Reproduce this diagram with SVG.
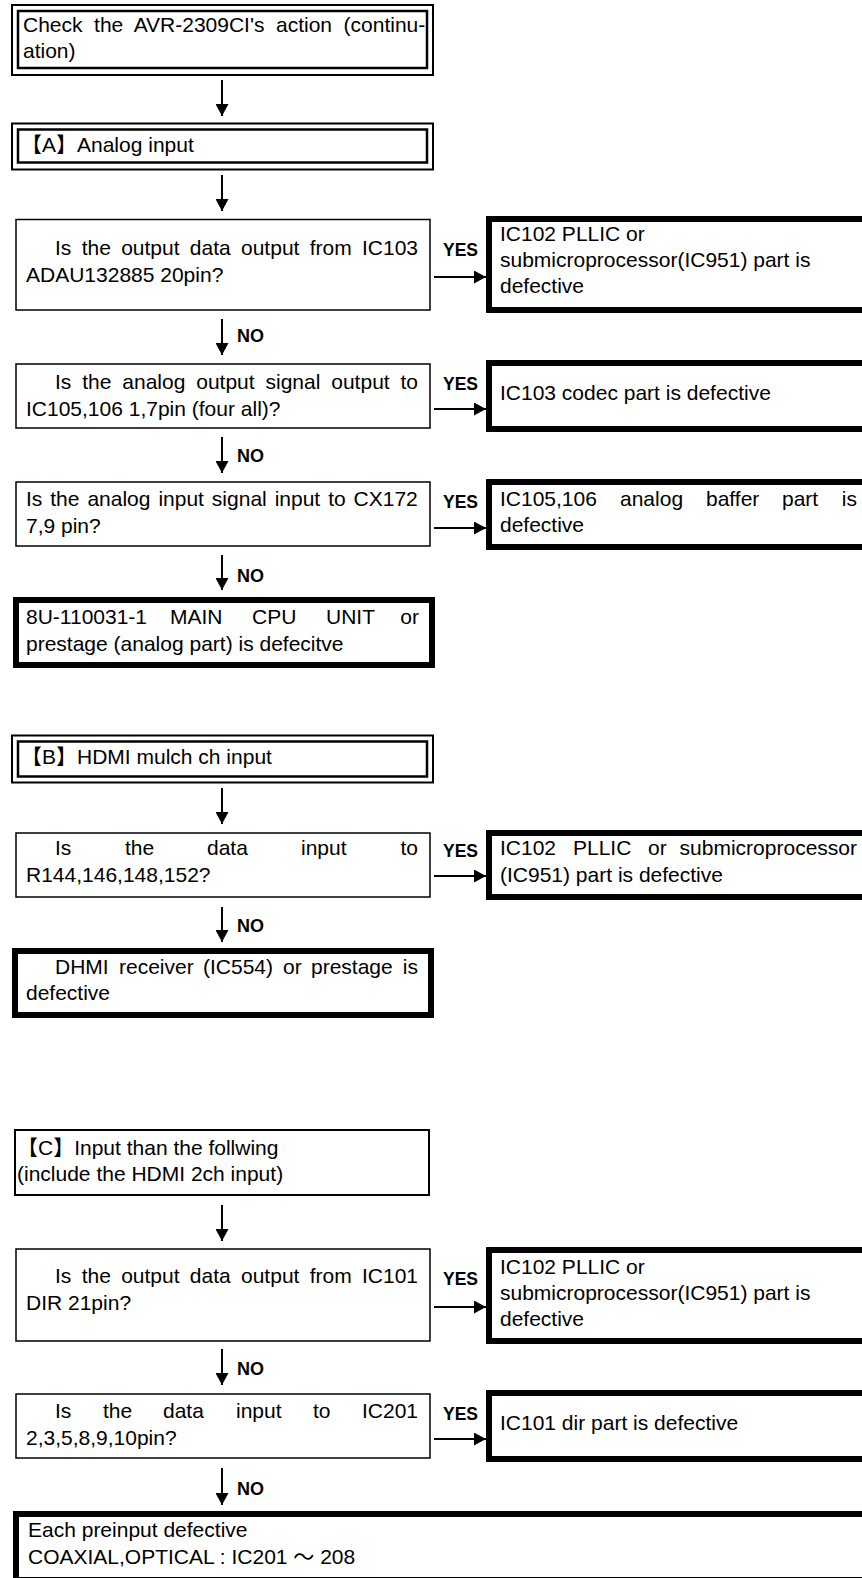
<svg xmlns="http://www.w3.org/2000/svg" width="862" height="1578" viewBox="0 0 862 1578">
<style>
.t{font-family:"Liberation Sans",Arial,"Noto Sans CJK JP",sans-serif;font-size:21px;fill:#000}
.yn{font-family:"Liberation Sans",Arial,sans-serif;font-size:18px;font-weight:bold;fill:#000}
.thin{fill:#fff;stroke:#000;stroke-width:1.5}
.thick{fill:#fff;stroke:#000;stroke-width:6}
.dblo{fill:#fff;stroke:#000;stroke-width:2}
.dbli{fill:none;stroke:#000;stroke-width:2.5}
.conn line{stroke:#000;stroke-width:2;marker-end:url(#ah)}
</style>
<defs>
<marker id="ah" viewBox="0 0 12 13" refX="12" refY="6.5" markerWidth="12" markerHeight="13" markerUnits="userSpaceOnUse" orient="auto">
<path d="M0,0 L12,6.5 L0,13 z" fill="#000"/>
</marker>
</defs>
<rect width="862" height="1578" fill="#fff"/>

<g id="start">
<rect class="dblo" x="12" y="5" width="421" height="70"/>
<rect class="dbli" x="18" y="11" width="409" height="57"/>
<text class="t" x="23" y="32" word-spacing="5.7">Check the AVR-2309CI's action (continu-</text>
<text class="t" x="23" y="58">ation)</text>
</g>

<g id="secA">
<rect class="dblo" x="12" y="123.5" width="421" height="46"/>
<rect class="dbli" x="18" y="129.5" width="409" height="33"/>
<text class="t" x="21" y="152">【A】Analog input</text>
</g>

<g id="qA1">
<rect class="thin" x="16" y="219.5" width="414" height="90.5"/>
<text class="t" x="55" y="255" word-spacing="4.47">Is the output data output from IC103</text>
<text class="t" x="26" y="282">ADAU132885 20pin?</text>
</g>
<g id="rA1">
<rect class="thick" x="489" y="219" width="400" height="91"/>
<text class="t" x="500" y="241">IC102 PLLIC or</text>
<text class="t" x="500" y="267">submicroprocessor(IC951) part is</text>
<text class="t" x="500" y="293">defective</text>
</g>

<g id="qA2">
<rect class="thin" x="16" y="364" width="414" height="64"/>
<text class="t" x="55" y="389" word-spacing="5.05">Is the analog output signal output to</text>
<text class="t" x="26" y="416">IC105,106 1,7pin (four all)?</text>
</g>
<g id="rA2">
<rect class="thick" x="489" y="363" width="400" height="66"/>
<text class="t" x="500" y="400">IC103 codec part is defective</text>
</g>

<g id="qA3">
<rect class="thin" x="16" y="482" width="414" height="64"/>
<text class="t" x="26" y="506" word-spacing="2.1">Is the analog input signal input to CX172</text>
<text class="t" x="26" y="533">7,9 pin?</text>
</g>
<g id="rA3">
<rect class="thick" x="489" y="482" width="400" height="65"/>
<text class="t" y="506"><tspan x="500">IC105,106</tspan><tspan x="620">analog</tspan><tspan x="706">baffer</tspan><tspan x="782">part</tspan><tspan x="857" text-anchor="end">is</tspan></text>
<text class="t" x="500" y="532">defective</text>
</g>

<g id="endA">
<rect class="thick" x="16" y="600" width="416" height="65"/>
<text class="t" y="624"><tspan x="26">8U-110031-1</tspan><tspan x="170">MAIN</tspan><tspan x="252">CPU</tspan><tspan x="326">UNIT</tspan><tspan x="419" text-anchor="end">or</tspan></text>
<text class="t" x="26" y="651">prestage (analog part) is defecitve</text>
</g>

<g id="secB">
<rect class="dblo" x="12" y="735.5" width="421" height="47"/>
<rect class="dbli" x="18" y="741.5" width="409" height="35"/>
<text class="t" x="21" y="764">【B】HDMI mulch ch input</text>
</g>

<g id="qB1">
<rect class="thin" x="16" y="833" width="414" height="64"/>
<text class="t" y="855"><tspan x="55">Is</tspan><tspan x="125">the</tspan><tspan x="207">data</tspan><tspan x="301">input</tspan><tspan x="418" text-anchor="end">to</tspan></text>
<text class="t" x="26" y="882">R144,146,148,152?</text>
</g>
<g id="rB1">
<rect class="thick" x="489" y="833" width="400" height="64"/>
<text class="t" y="855"><tspan x="500">IC102</tspan><tspan x="573">PLLIC</tspan><tspan x="648">or</tspan><tspan x="857" text-anchor="end">submicroprocessor</tspan></text>
<text class="t" x="500" y="882">(IC951) part is defective</text>
</g>

<g id="endB">
<rect class="thick" x="15" y="951" width="416" height="64"/>
<text class="t" y="974"><tspan x="55">DHMI</tspan><tspan x="119">receiver</tspan><tspan x="203">(IC554)</tspan><tspan x="283">or</tspan><tspan x="311">prestage</tspan><tspan x="418" text-anchor="end">is</tspan></text>
<text class="t" x="26" y="1000">defective</text>
</g>

<g id="secC">
<rect class="dblo" x="15" y="1130" width="414" height="65"/>
<text class="t" x="17" y="1155">【C】Input than the follwing</text>
<text class="t" x="17" y="1181">(include the HDMI 2ch input)</text>
</g>

<g id="qC1">
<rect class="thin" x="16" y="1249" width="414" height="92"/>
<text class="t" x="55" y="1283" word-spacing="4.47">Is the output data output from IC101</text>
<text class="t" x="26" y="1310">DIR 21pin?</text>
</g>
<g id="rC1">
<rect class="thick" x="489" y="1250" width="400" height="91"/>
<text class="t" x="500" y="1274">IC102 PLLIC or</text>
<text class="t" x="500" y="1300">submicroprocessor(IC951) part is</text>
<text class="t" x="500" y="1326">defective</text>
</g>

<g id="qC2">
<rect class="thin" x="16" y="1394" width="414" height="64"/>
<text class="t" y="1418"><tspan x="55">Is</tspan><tspan x="103">the</tspan><tspan x="163">data</tspan><tspan x="236">input</tspan><tspan x="313">to</tspan><tspan x="418" text-anchor="end">IC201</tspan></text>
<text class="t" x="26" y="1445">2,3,5,8,9,10pin?</text>
</g>
<g id="rC2">
<rect class="thick" x="489" y="1393" width="400" height="66"/>
<text class="t" x="500" y="1430">IC101 dir part is defective</text>
</g>

<g id="endC">
<rect class="thick" x="16" y="1514" width="870" height="66"/>
<text class="t" x="28" y="1537">Each preinput defective</text>
<text class="t" x="28" y="1564">COAXIAL,OPTICAL : IC201 ～ 208</text>
</g>

<g id="connectors" class="conn">
<line x1="222" y1="80" x2="222" y2="116"/>
<line x1="222" y1="175" x2="222" y2="211"/>
<line x1="222" y1="319" x2="222" y2="355"/>
<line x1="222" y1="437" x2="222" y2="473"/>
<line x1="222" y1="555" x2="222" y2="590"/>
<line x1="222" y1="788" x2="222" y2="824"/>
<line x1="222" y1="907" x2="222" y2="942"/>
<line x1="222" y1="1205" x2="222" y2="1241"/>
<line x1="222" y1="1349" x2="222" y2="1385"/>
<line x1="222" y1="1468" x2="222" y2="1505"/>
<line x1="434" y1="277" x2="486" y2="277"/>
<line x1="434" y1="409" x2="486" y2="409"/>
<line x1="434" y1="528" x2="486" y2="528"/>
<line x1="434" y1="876" x2="486" y2="876"/>
<line x1="434" y1="1307" x2="486" y2="1307"/>
<line x1="434" y1="1439" x2="486" y2="1439"/>
</g>
<g id="labels">
<text class="yn" x="443" y="256" textLength="35" lengthAdjust="spacingAndGlyphs">YES</text>
<text class="yn" x="443" y="390" textLength="35" lengthAdjust="spacingAndGlyphs">YES</text>
<text class="yn" x="443" y="508" textLength="35" lengthAdjust="spacingAndGlyphs">YES</text>
<text class="yn" x="443" y="857" textLength="35" lengthAdjust="spacingAndGlyphs">YES</text>
<text class="yn" x="443" y="1285" textLength="35" lengthAdjust="spacingAndGlyphs">YES</text>
<text class="yn" x="443" y="1420" textLength="35" lengthAdjust="spacingAndGlyphs">YES</text>
<text class="yn" x="237" y="342">NO</text>
<text class="yn" x="237" y="462">NO</text>
<text class="yn" x="237" y="582">NO</text>
<text class="yn" x="237" y="932">NO</text>
<text class="yn" x="237" y="1375">NO</text>
<text class="yn" x="237" y="1495">NO</text>
</g>
</svg>
